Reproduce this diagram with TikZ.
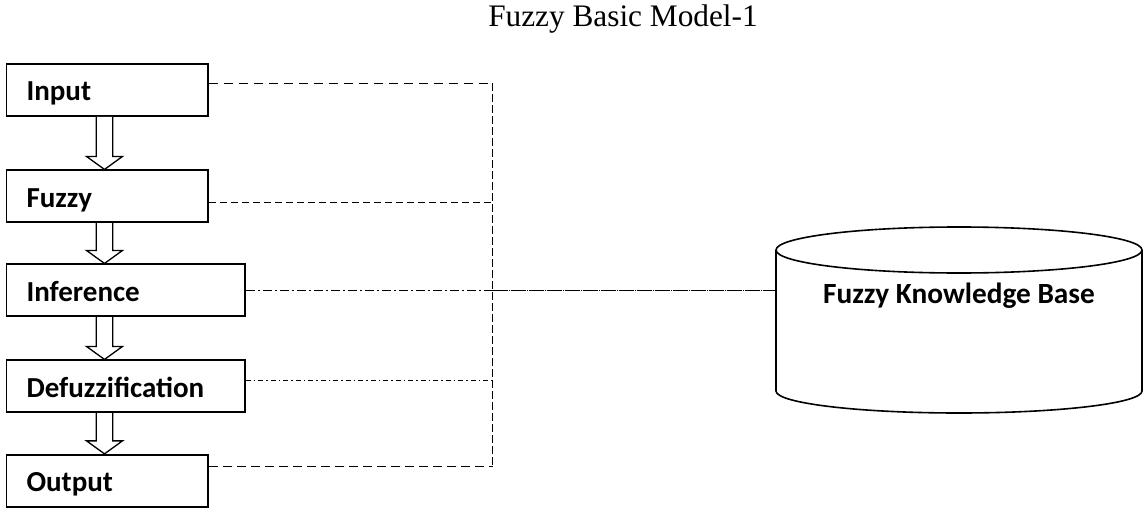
\documentclass[tikz,border=0pt]{standalone}
\usepackage{fontspec}
\setmainfont{Liberation Serif}
\newfontfamily\calibri{Carlito}
\usetikzlibrary{calc}

% hollow block arrow from one stage down to the next
\newcommand{\downblock}[2]{%
  \draw[hollow] ($(ax |- #1.south)+(-8.3,0)$) -- ($(ax |- #2.north)+(-8.3,-13)$)
    -- ($(ax |- #2.north)+(-18,-13)$) -- (ax |- #2.north)
    -- ($(ax |- #2.north)+(18,-13)$) -- ($(ax |- #2.north)+(8.3,-13)$)
    -- ($(ax |- #1.south)+(8.3,0)$);}

\begin{document}
\begin{tikzpicture}[x=1pt, y=-1pt]
    % Styles
    \tikzstyle{stage} = [draw=black, line width=1.7pt, anchor=west, minimum height=52pt, inner xsep=20pt, text height=22pt, text depth=0pt, align=left, font=\calibri\bfseries\fontsize{29}{33}\selectfont]
    \tikzstyle{short} = [stage, text width=161.5pt]
    \tikzstyle{long} = [stage, text width=198.5pt]
    \tikzstyle{hollow} = [draw=black, line width=1.3pt, fill=white, line join=miter]
    \tikzstyle{link} = [line width=1.5pt]

    \useasboundingbox (0,0) rectangle (1145,508);

    % Title
    \node[anchor=base, font=\fontsize{31.3}{36}\selectfont] (title) at (623,27) {Fuzzy Basic Model-1};

    % Stages
    \node[short] (input) at (5.7,90) {Input};
    \node[short] (fuzzy) at (5.7,196.3) {Fuzzy};
    \node[long] (inference) at (5.7,290.3) {Inference};
    \node[long] (defuzz) at (5.7,386.3) {Defuzzification};
    \node[short] (output) at (5.7,480.7) {Output};

    % Knowledge base (cylinder)
    \node[anchor=base, font=\calibri\bfseries\fontsize{29.3}{33}\selectfont] (kb) at (959,303.5) {Fuzzy Knowledge Base};
    \draw[line width=1.6pt] (959,250) ellipse [x radius=183pt, y radius=23pt];
    \draw[line width=1.6pt] (776,250) -- (776,391) arc [start angle=180, end angle=360, x radius=183pt, y radius=22pt] -- (1142,250);
    \coordinate (kbin) at (776,290.3);

    % Bus coordinates
    \coordinate (ax) at (104.5,0);
    \coordinate (busIn) at (492.7,83.3);
    \coordinate (busFz) at (492.7,202.3);
    \coordinate (busInf) at (492.7,290.3);
    \coordinate (busDf) at (492.7,380.7);
    \coordinate (busOut) at (492.7,466.7);

    % Block arrows
    \downblock{input}{fuzzy}
    \downblock{fuzzy}{inference}
    \downblock{inference}{defuzz}
    \downblock{defuzz}{output}

    % Links to the knowledge base
    \draw[link, dash pattern=on 9pt off 6pt] (busIn -| input.east) -- (busIn);
    \draw[link, dash pattern=on 7pt off 4pt] (busFz -| fuzzy.east) -- (busFz);
    \draw[link, dash pattern=on 9pt off 3pt on 2pt off 3pt] (inference.east) -- (busInf);
    \draw[link, dash pattern=on 5pt off 3pt on 1.5pt off 3pt] (busDf -| defuzz.east) -- (busDf);
    \draw[link, dash pattern=on 9pt off 5pt] (busOut -| output.east) -- (busOut);
    \draw[link, dash pattern=on 7.5pt off 3.5pt] (busIn) -- (busOut);
    \draw[link, dash pattern=on 15pt off 1pt on 1pt off 1pt] (busInf) -- (kbin);
\end{tikzpicture}
\end{document}
